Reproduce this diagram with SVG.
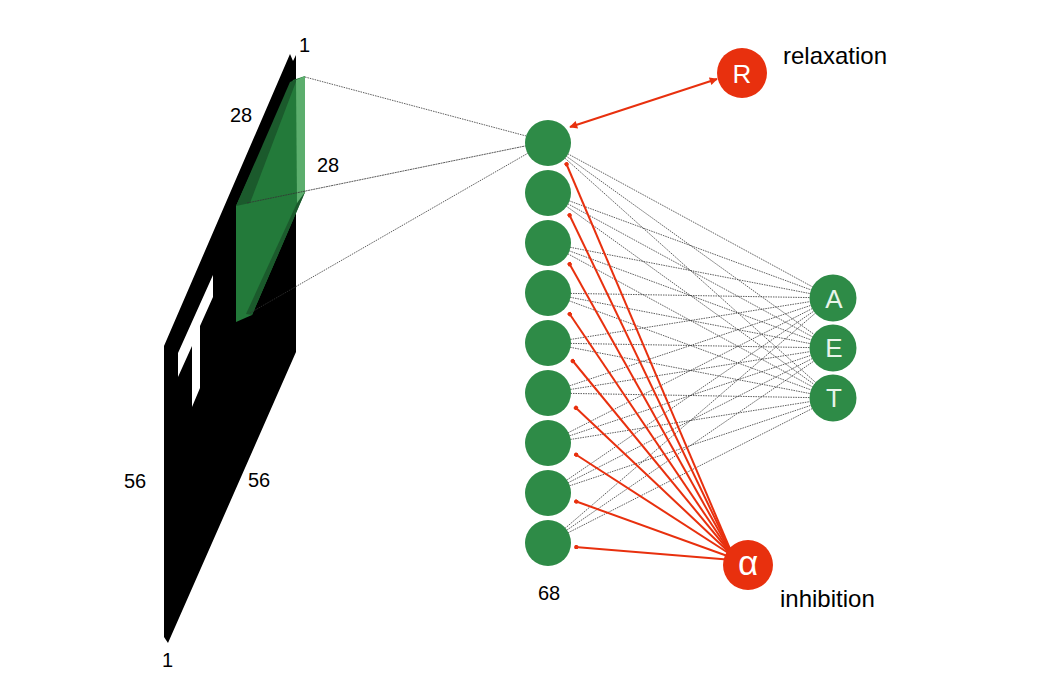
<svg xmlns="http://www.w3.org/2000/svg" width="1051" height="689" viewBox="0 0 1051 689">
<defs>
<style>
.lbl{font-family:"Liberation Sans",Arial,sans-serif;font-size:20px;fill:#000}
.big{font-family:"Liberation Sans",Arial,sans-serif;font-size:24px;fill:#000}
.hid{fill:#2e8b47}
.out{fill:#2e8b47}
.red{fill:#e8300e}
.nt{font-family:"Liberation Sans",Arial,sans-serif;font-size:26px;fill:#e8f4ea;text-anchor:middle}
.rt{font-family:"Liberation Sans",Arial,sans-serif;font-size:26px;fill:#fff;text-anchor:middle}
.dot{stroke:#333;stroke-width:0.8;stroke-dasharray:1.5 1;fill:none}
.inh{stroke:#e8300e;stroke-width:2;fill:none;marker-end:url(#ah)}
</style>
<marker id="ah" viewBox="0 0 10 10" refX="8" refY="5" markerWidth="2.2" markerHeight="2.2" orient="auto" markerUnits="strokeWidth">
<circle cx="5" cy="5" r="5" fill="#e8300e"/>
</marker>
<marker id="ah2" viewBox="0 0 10 10" refX="9" refY="5" markerWidth="4.5" markerHeight="4" orient="auto-start-reverse" markerUnits="strokeWidth">
<path d="M0,0 L10,5 L0,10 z" fill="#e8300e"/>
</marker>
</defs>
<rect width="1051" height="689" fill="#fff"/>

<g id="input-slab">
<polygon points="164,346 290,54 293,61 296,55 296,352 168,643 164,637" fill="#000"/>
<polygon points="178,353 213,275 213,297 200,326 200,388 192,407 192,346 178,377" fill="#fff"/>
</g>

<g id="receptive-field">
<polygon points="236,206 293,80 305,76 305,192 252,315 236,322" fill="#237a3a"/>
<polygon points="236,206 290,82 297,79 250,203" fill="#1b5a2c"/>
<polygon points="297,203 306,190 252,315 246,314" fill="#1b5a2c"/>
<polygon points="296,80 305,76 305,192 297,203" fill="#5cae6d"/>
</g>

<g id="connectors">
<line class="dot" x1="305" y1="77" x2="530" y2="137"/>
<line x1="247" y1="203" x2="530" y2="145" stroke="#333" stroke-width="0.8" stroke-dasharray="2 0.6"/>
<line class="dot" x1="250" y1="313" x2="530" y2="152"/>

<g id="hidden-to-output">
<line class="dot" x1="548" y1="143" x2="833" y2="298"/><line class="dot" x1="548" y1="143" x2="833" y2="348"/><line class="dot" x1="548" y1="143" x2="833" y2="398"/>
<line class="dot" x1="548" y1="193" x2="833" y2="298"/><line class="dot" x1="548" y1="193" x2="833" y2="348"/><line class="dot" x1="548" y1="193" x2="833" y2="398"/>
<line class="dot" x1="548" y1="243" x2="833" y2="298"/><line class="dot" x1="548" y1="243" x2="833" y2="348"/><line class="dot" x1="548" y1="243" x2="833" y2="398"/>
<line class="dot" x1="548" y1="293" x2="833" y2="298"/><line class="dot" x1="548" y1="293" x2="833" y2="348"/><line class="dot" x1="548" y1="293" x2="833" y2="398"/>
<line class="dot" x1="548" y1="343" x2="833" y2="298"/><line class="dot" x1="548" y1="343" x2="833" y2="348"/><line class="dot" x1="548" y1="343" x2="833" y2="398"/>
<line class="dot" x1="548" y1="393" x2="833" y2="298"/><line class="dot" x1="548" y1="393" x2="833" y2="348"/><line class="dot" x1="548" y1="393" x2="833" y2="398"/>
<line class="dot" x1="548" y1="443" x2="833" y2="298"/><line class="dot" x1="548" y1="443" x2="833" y2="348"/><line class="dot" x1="548" y1="443" x2="833" y2="398"/>
<line class="dot" x1="548" y1="493" x2="833" y2="298"/><line class="dot" x1="548" y1="493" x2="833" y2="348"/><line class="dot" x1="548" y1="493" x2="833" y2="398"/>
<line class="dot" x1="548" y1="543" x2="833" y2="298"/><line class="dot" x1="548" y1="543" x2="833" y2="348"/><line class="dot" x1="548" y1="543" x2="833" y2="398"/>
</g>

<line x1="570" y1="127" x2="717" y2="79" stroke="#e8300e" stroke-width="2" marker-start="url(#ah2)" marker-end="url(#ah2)"/>

<g id="inhibition-lines">
<line class="inh" x1="733" y1="556" x2="566" y2="163"/>
<line class="inh" x1="733" y1="556" x2="569" y2="214"/>
<line class="inh" x1="733" y1="556" x2="569" y2="263"/>
<line class="inh" x1="733" y1="556" x2="569" y2="313"/>
<line class="inh" x1="733" y1="556" x2="572" y2="360"/>
<line class="inh" x1="733" y1="556" x2="575" y2="407"/>
<line class="inh" x1="733" y1="556" x2="575" y2="454"/>
<line class="inh" x1="733" y1="558" x2="575" y2="501"/>
<line class="inh" x1="733" y1="560" x2="575" y2="547"/>
</g>
</g>

<g id="hidden-1"><circle class="hid" cx="548" cy="143" r="23"/></g>
<g id="hidden-2"><circle class="hid" cx="548" cy="193" r="23"/></g>
<g id="hidden-3"><circle class="hid" cx="548" cy="243" r="23"/></g>
<g id="hidden-4"><circle class="hid" cx="548" cy="293" r="23"/></g>
<g id="hidden-5"><circle class="hid" cx="548" cy="343" r="23"/></g>
<g id="hidden-6"><circle class="hid" cx="548" cy="393" r="23"/></g>
<g id="hidden-7"><circle class="hid" cx="548" cy="443" r="23"/></g>
<g id="hidden-8"><circle class="hid" cx="548" cy="493" r="23"/></g>
<g id="hidden-9"><circle class="hid" cx="548" cy="543" r="23"/></g>

<g id="out-A"><circle class="out" cx="833" cy="298" r="23.5"/><text class="nt" x="834" y="308">A</text></g>
<g id="out-E"><circle class="out" cx="833" cy="348" r="23.5"/><text class="nt" x="834" y="357">E</text></g>
<g id="out-T"><circle class="out" cx="833" cy="398" r="23.5"/><text class="nt" x="834" y="407">T</text></g>

<g id="relaxation-R"><circle class="red" cx="742" cy="73" r="25"/><text class="rt" x="742" y="83">R</text></g>
<g id="inhibition-alpha"><circle class="red" cx="748" cy="565" r="25"/><text class="rt" x="748" y="575" style="font-size:35px">α</text></g>

<g id="labels">
<text class="lbl" x="299" y="52">1</text>
<text class="lbl" x="230" y="122">28</text>
<text class="lbl" x="317" y="172">28</text>
<text class="lbl" x="124" y="488">56</text>
<text class="lbl" x="248" y="487">56</text>
<text class="lbl" x="162" y="667">1</text>
<text class="lbl" x="538" y="600">68</text>
<text class="big" x="783" y="64">relaxation</text>
<text class="big" x="780" y="607">inhibition</text>
</g>
</svg>
